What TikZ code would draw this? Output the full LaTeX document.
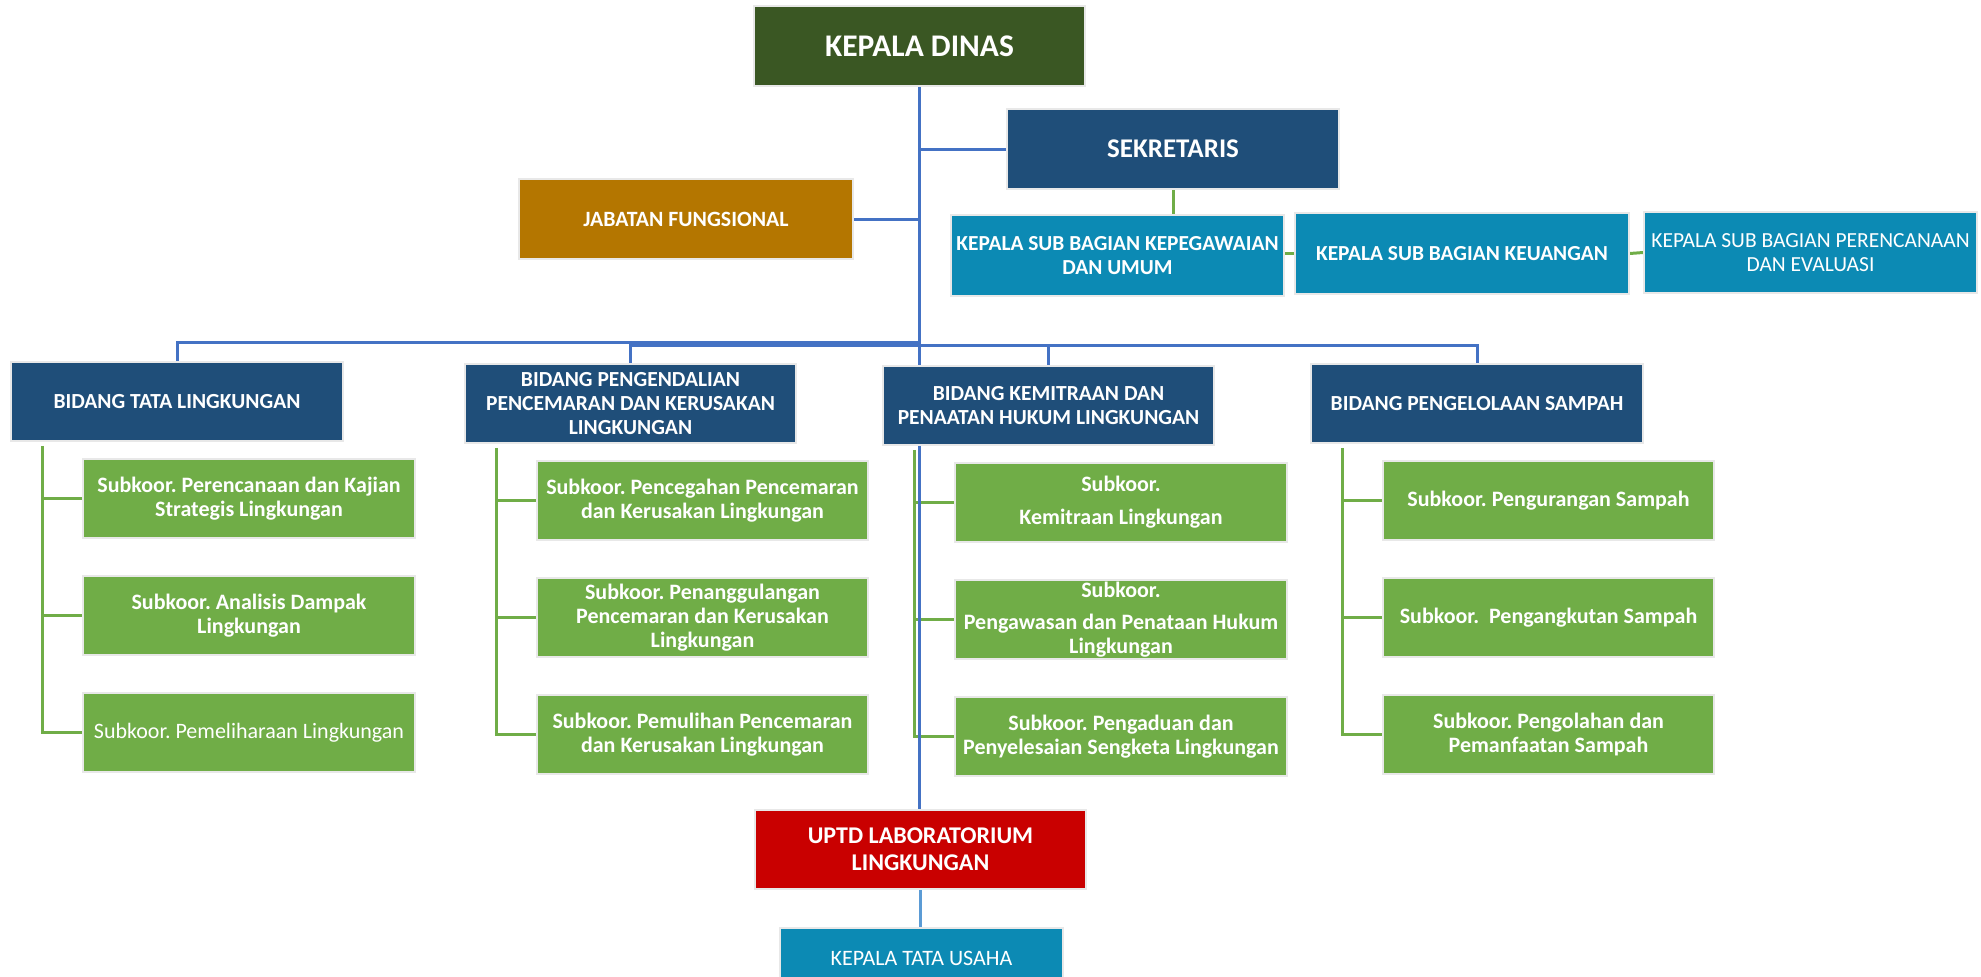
\documentclass[tikz,border=0pt]{standalone}
\usepackage{fontspec}
\setmainfont{Carlito}
\usetikzlibrary{backgrounds}
\definecolor{kdc}{HTML}{3A5723}
\definecolor{navy}{HTML}{1F4E79}
\definecolor{jabc}{HTML}{B47600}
\definecolor{ksbc}{HTML}{0C8AB4}
\definecolor{grn}{HTML}{70AD47}
\definecolor{redc}{HTML}{C90000}
\definecolor{bline}{HTML}{4472C4}
\definecolor{lbline}{HTML}{5B9BD5}
\newcommand\fsz[2]{\fontsize{#1}{#2}\selectfont}
\frenchspacing
\begin{document}
\begin{tikzpicture}[x=1pt,y=-1pt,
  bx/.style={draw=black!9, line width=1.5pt, text=white, align=center, inner sep=0pt},
  bidang/.style={bx, fill=navy, minimum width=332, minimum height=79, font=\bfseries\fsz{21.5}{24}},
  sub/.style={bx, fill=grn, minimum width=332, minimum height=79, font=\bfseries\fsz{22}{24}},
  ksb/.style={bx, fill=ksbc, minimum width=333, minimum height=81, font=\bfseries\fsz{21.4}{24}},
  bl/.style={draw=bline, line width=3pt},
  gl/.style={draw=grn, line width=3pt},
  lbl/.style={draw=lbline, line width=3pt}]
\useasboundingbox (0,0) rectangle (1981,977);
\clip (0,0) rectangle (1981,977);

% top level
\node[bx, fill=kdc, minimum width=331, minimum height=80, font=\bfseries\fsz{31.5}{36}] (kd) at (919.5,46) {KEPALA DINAS};
\node[bx, fill=navy, minimum width=332, minimum height=80, font=\bfseries\fsz{27}{30}] (sek) at (1173,149) {SEKRETARIS};
\node[bx, fill=jabc, minimum width=334, minimum height=80, font=\bfseries\fsz{21.8}{24}] (jab) at (686,219) {JABATAN FUNGSIONAL};

\node[ksb] (ksb1) at (1117.5,255.5) {KEPALA SUB BAGIAN KEPEGAWAIAN\\DAN UMUM};
\node[ksb, minimum width=334] (ksb2) at (1462,253.5) {KEPALA SUB BAGIAN KEUANGAN};
\node[ksb, font=\fsz{21.5}{24}] (ksb3) at (1810.5,252.5) {KEPALA SUB BAGIAN PERENCANAAN\\DAN EVALUASI};

% bidang
\node[bidang] (b1) at (177,401.5) {BIDANG TATA LINGKUNGAN};
\node[bidang, minimum width=331] (b2) at (630.5,403.5) {BIDANG PENGENDALIAN\\PENCEMARAN DAN KERUSAKAN\\LINGKUNGAN};
\node[bidang, minimum width=331] (b3) at (1048.5,405.5) {BIDANG KEMITRAAN DAN\\PENAATAN HUKUM LINGKUNGAN};
\node[bidang] (b4) at (1477,403.5) {BIDANG PENGELOLAAN SAMPAH};

% subkoor column 1
\node[sub] (s11) at (249,498.5) {Subkoor. Perencanaan dan Kajian\\Strategis Lingkungan};
\node[sub] (s12) at (249,615.5) {Subkoor. Analisis Dampak\\Lingkungan};
\node[sub, font=\fsz{22}{24}] (s13) at (249,732.5) {Subkoor. Pemeliharaan Lingkungan};
% column 2
\node[sub, minimum width=331] (s21) at (702.5,500.5) {Subkoor. Pencegahan Pencemaran\\dan Kerusakan Lingkungan};
\node[sub, minimum width=331] (s22) at (702.5,617.5) {Subkoor. Penanggulangan\\Pencemaran dan Kerusakan\\Lingkungan};
\node[sub, minimum width=331] (s23) at (702.5,734.5) {Subkoor. Pemulihan Pencemaran\\dan Kerusakan Lingkungan};
% column 3
\node[sub] (s31) at (1121,502.5) {Subkoor.\\[9pt]Kemitraan Lingkungan};
\node[sub] (s32) at (1121,619.5) {Subkoor.\\[8pt]Pengawasan dan Penataan Hukum\\Lingkungan};
\node[sub] (s33) at (1121,736.5) {Subkoor. Pengaduan dan\\Penyelesaian Sengketa Lingkungan};
% column 4
\node[sub, minimum width=331] (s41) at (1548.5,500.5) {Subkoor. Pengurangan Sampah};
\node[sub, minimum width=331] (s42) at (1548.5,617.5) {Subkoor.\ \ Pengangkutan Sampah};
\node[sub, minimum width=331] (s43) at (1548.5,734.5) {Subkoor. Pengolahan dan\\Pemanfaatan Sampah};

% UPTD
\node[bx, fill=redc, minimum width=331, minimum height=79, font=\bfseries\fsz{24}{27}] (uptd) at (920.5,849.5) {UPTD LABORATORIUM\\LINGKUNGAN};
\node[bx, fill=ksbc, minimum width=283, minimum height=60, font=\fsz{22}{26}] (ktu) at (921.5,958) {KEPALA TATA USAHA};

\begin{scope}[on background layer]
% green connectors
\draw[gl] (sek.south) -- (sek.south |- ksb1.north);
\draw[gl] (ksb2.west -| ksb1.east) -- (ksb2.west);
\draw[gl] (ksb2.east) -- (ksb3.west);

\foreach \b/\s in {b1/1, b2/2, b3/3, b4/4}{
  \coordinate (sp\s) at ([xshift=32pt, yshift=-4pt]\b.south west);
  \draw[gl] (sp\s) |- (s\s3.west);
  \draw[gl] (sp\s |- s\s1.west) -- (s\s1.west);
  \draw[gl] (sp\s |- s\s2.west) -- (s\s2.west);
}

% blue connectors
\coordinate (busA) at (920,342.5);
\coordinate (busB) at (1477,345.5);
\draw[bl] (kd.south) -- (kd.south |- uptd.north);
\draw[bl] (kd.south |- sek.west) -- (sek.west);
\draw[bl] (jab.east) -- (jab.east -| kd.south);
\draw[bl] (b1.north) |- (busA);
\draw[bl] (b2.north) |- (busB) -- (b4.north);
\draw[bl] (b3.north) -- (b3.north |- busB);
\draw[lbl] (uptd.south) -- (uptd.south |- ktu.north);
\end{scope}
\end{tikzpicture}
\end{document}
